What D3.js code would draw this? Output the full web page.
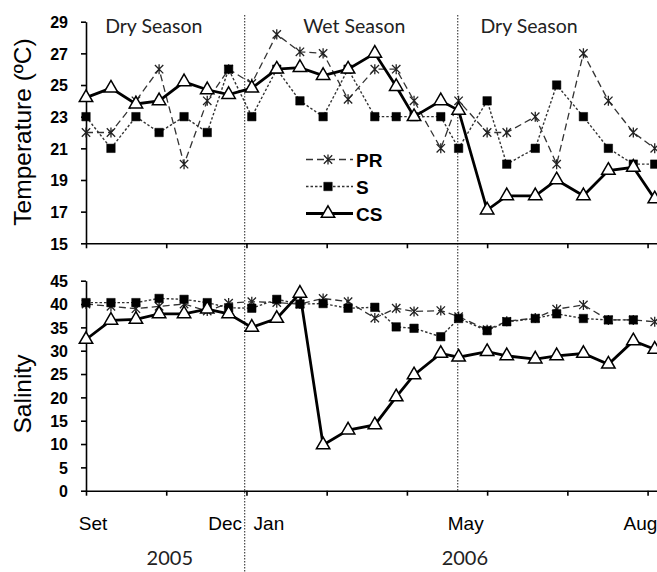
<!DOCTYPE html>
<html>
<head>
<meta charset="utf-8">
<script src="https://cdn.jsdelivr.net/npm/d3@7"></script>
<style>
  body { margin: 0; background: #fff; }
  .axis path, .axis line { stroke: #000; stroke-width: 1.6px; }
  .axis text { font-family: "Liberation Sans Narrow", "Arial Narrow", "Liberation Sans", Arial, sans-serif; font-weight: bold; font-size: 16px; fill: #000; }
  .title { font-family: "Liberation Sans", Arial, sans-serif; font-size: 24.5px; fill: #000; }
  .season { font-family: Lato, "Open Sans", sans-serif; font-size: 19.5px; fill: #222; }
  .month { font-family: "Liberation Sans", Arial, sans-serif; font-size: 19px; fill: #000; }
  .year { font-family: Lato, "Open Sans", sans-serif; font-size: 20px; fill: #222; }
  .legend text { font-family: "Liberation Sans Narrow", "Arial Narrow", "Liberation Sans", Arial, sans-serif; font-weight: bold; font-size: 19px; fill: #000; }
</style>
</head>
<body>
<svg width="657" height="572"></svg>
<script>
// sampling days (days since first sample, Sep 2005)
const days = [0, 14, 28, 41, 55, 68, 80, 93, 107, 120, 133, 147, 162, 174, 184, 199, 209, 225, 236, 252, 264, 279, 293, 307, 319];

// temperature (ºC)
const tempPR = [22, 22, 24, 26, 20, 24, 26, 25.1, 28.2, 27.1, 27, 24.1, 26, 26, 24, 21, 24, 22, 22, 23, 20, 27, 24, 22, 21];
const tempS  = [23, 21, 23, 22, 23, 22, 26, 23, 26, 24, 23, 26, 23, 23, 23, 23, 21, 24, 20, 21, 25, 23, 21, 20, 20];
const tempCS = [24.2, 24.8, 23.8, 24.0, 25.2, 24.7, 24.4, 24.8, 26.0, 26.1, 25.6, 26.0, 27.0, 24.9, 23.0, 24.0, 23.4, 17.1, 18.0, 18.0, 19.0, 18.0, 19.6, 19.8, 17.8];

// salinity
const salPR = [40, 39.5, 39, 39.5, 40, 38.5, 40.2, 40.5, 40.3, 40, 41.2, 40.5, 37.0, 39.1, 38.4, 38.6, 37.3, 34.5, 36.3, 37, 38.9, 39.8, 36.6, 36.6, 36.2];
const salS  = [40.3, 40.3, 40.3, 41.2, 41.0, 40.3, 39.2, 39.1, 41.0, 40.0, 40.1, 39.1, 39.3, 35.1, 34.8, 33.0, 36.9, 34.3, 36.2, 36.9, 37.9, 36.9, 36.6, 36.6, null];
const salCS = [32.4, 36.5, 36.7, 37.9, 37.9, 38.9, 37.9, 35.0, 36.9, 42.3, 9.8, 13.0, 14.1, 20.1, 24.8, 29.4, 28.6, 29.8, 28.9, 28.2, 28.9, 29.4, 27.1, 32.1, 30.3];

const tempTicks = [15, 17, 19, 21, 23, 25, 27, 29];
const salTicks = [0, 5, 10, 15, 20, 25, 30, 35, 40, 45];
const xTicks = [0, 45, 90, 135, 180, 225, 270, 315];

const seasonNames = ["Dry Season", "Wet Season", "Dry Season"];
const seasonMid = [38, 150.5, 248.5];
const seasonBreaks = [89, 208.5];

const monthNames = ["Set", "Dec", "Jan", "May", "Aug"];
const monthDays = [4, 78, 102.6, 213, 311];
const yearNames = ["2005", "2006"];
const yearDays = [47, 212.5];

const seriesNames = ["PR", "S", "CS"];

const svg = d3.select("svg");

const x = d3.scaleLinear().domain([0, 320]).range([86, 656.5]);
const yT = d3.scaleLinear().domain([15, 29]).range([243.3, 21.7]);
const yS = d3.scaleLinear().domain([0, 45]).range([490.7, 280.7]);

// star marker: x with a vertical bar
const starSymbol = {
  draw(ctx, size) {
    const r = Math.sqrt(size) / 2;
    ctx.moveTo(-r, -r); ctx.lineTo(r, r);
    ctx.moveTo(-r, r); ctx.lineTo(r, -r);
    ctx.moveTo(0, -r * 1.2); ctx.lineTo(0, r * 1.2);
  }
};

const styles = {
  PR: {dash: "7,4", width: 1.3, stroke: "#333", symbol: d3.symbol(starSymbol, 70), fill: "none", mstroke: "#222", mwidth: 1.3},
  S:  {dash: "2.5,2", width: 1.4, stroke: "#333", symbol: d3.symbol(d3.symbolSquare, 72), fill: "#000", mstroke: "#000", mwidth: 0.5},
  CS: {dash: null, width: 2.8, stroke: "#000", symbol: d3.symbol(d3.symbolTriangle, 78), fill: "#fff", mstroke: "#000", mwidth: 1.5}
};

// season boundaries (dotted)
svg.selectAll(".break")
  .data(seasonBreaks)
  .enter().append("line")
  .attr("x1", d => x(d)).attr("x2", d => x(d))
  .attr("y1", 15)
  .attr("y2", (d, i) => i === 0 ? 572 : yS(0))
  .attr("stroke", "#444")
  .attr("stroke-width", 1.2)
  .attr("stroke-dasharray", "1.5,1.5");

function panel(y, ticks, data, title, titleY) {
  const g = svg.append("g");

  g.append("g")
    .attr("class", "axis")
    .attr("transform", `translate(0,${y.range()[0]})`)
    .call(d3.axisBottom(x).tickValues(xTicks).tickSize(5).tickSizeOuter(0).tickFormat(""));

  g.append("g")
    .attr("class", "axis")
    .attr("transform", `translate(${x.range()[0]},0)`)
    .call(d3.axisLeft(y).tickValues(ticks).tickSize(5).tickSizeOuter(0).tickPadding(13))
    .selectAll("text").attr("dy", "0.36em");

  g.append("text")
    .attr("class", "title")
    .attr("transform", `translate(31,${titleY}) rotate(-90)`)
    .attr("text-anchor", "middle")
    .text(title);

  seriesNames.forEach((name, k) => {
    const st = styles[name];
    const pts = days.map((d, i) => ({d: d, v: data[k][i]})).filter(p => p.v != null);

    g.append("path")
      .datum(pts)
      .attr("fill", "none")
      .attr("stroke", st.stroke)
      .attr("stroke-width", st.width)
      .attr("stroke-dasharray", st.dash)
      .attr("d", d3.line().x(p => x(p.d)).y(p => y(p.v)));

    g.selectAll(".m" + name)
      .data(pts)
      .enter().append("path")
      .attr("transform", p => `translate(${x(p.d)},${y(p.v)})`)
      .attr("d", st.symbol)
      .attr("fill", st.fill)
      .attr("stroke", st.mstroke)
      .attr("stroke-width", st.mwidth);
  });
}

panel(yT, tempTicks, [tempPR, tempS, tempCS], "Temperature (ºC)", 132);
panel(yS, salTicks, [salPR, salS, salCS], "Salinity", 394);

// season labels
svg.selectAll(".season")
  .data(seasonNames)
  .enter().append("text")
  .attr("class", "season")
  .attr("x", (d, i) => x(seasonMid[i]))
  .attr("y", 33)
  .attr("text-anchor", "middle")
  .text(d => d);

// month and year labels
svg.selectAll(".month")
  .data(monthNames)
  .enter().append("text")
  .attr("class", "month")
  .attr("x", (d, i) => x(monthDays[i]))
  .attr("y", 530)
  .attr("text-anchor", "middle")
  .text(d => d);

svg.selectAll(".year")
  .data(yearNames)
  .enter().append("text")
  .attr("class", "year")
  .attr("x", (d, i) => x(yearDays[i]))
  .attr("y", 565)
  .attr("text-anchor", "middle")
  .text(d => d);

// legend
const legend = svg.append("g").attr("class", "legend");
seriesNames.forEach((name, i) => {
  const st = styles[name];
  const ly = 159.5 + i * 27;
  legend.append("line")
    .attr("x1", 306).attr("x2", 353)
    .attr("y1", ly).attr("y2", ly)
    .attr("stroke", st.stroke)
    .attr("stroke-width", st.width)
    .attr("stroke-dasharray", st.dash);
  legend.append("path")
    .attr("transform", `translate(328,${ly})`)
    .attr("d", st.symbol)
    .attr("fill", st.fill)
    .attr("stroke", st.mstroke)
    .attr("stroke-width", st.mwidth);
  legend.append("text")
    .attr("x", 356)
    .attr("y", ly + 7)
    .text(name);
});
</script>
</body>
</html>
